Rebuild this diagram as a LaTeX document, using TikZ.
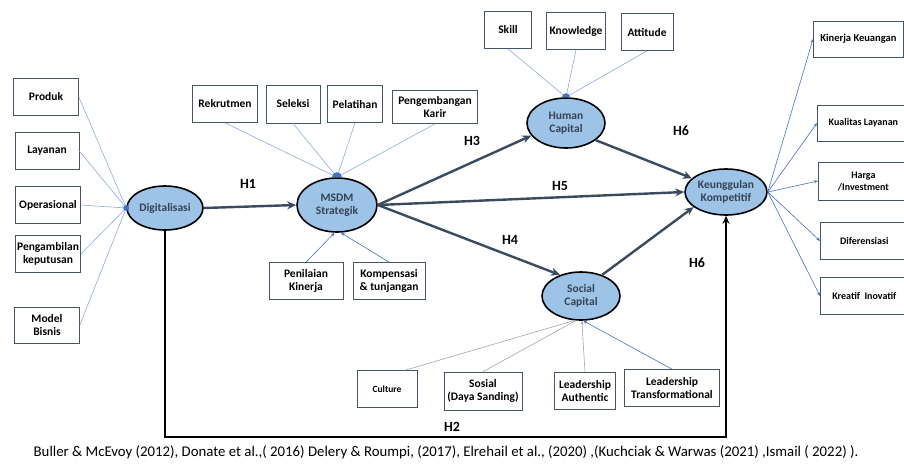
\documentclass[tikz,border=0pt]{standalone}
\usepackage{fontspec}
\setmainfont{Carlito}
\usetikzlibrary{arrows.meta,shapes.geometric}

\definecolor{latent}{HTML}{9DC3E6}
\definecolor{indik}{HTML}{8FAADC}
\definecolor{dotblu}{HTML}{4472C4}
\definecolor{path}{HTML}{3B4A5E}
\definecolor{boxline}{HTML}{44546A}

\tikzset{
  var/.style={ellipse, draw=black, line width=1.6pt, fill=latent, inner sep=-2pt,
    font=\fontsize{11.5}{13}\selectfont\bfseries, text=path!90!black, align=center},
  ind/.style={draw=boxline, line width=0.7pt, fill=white, align=center,
    font=\fontsize{11.5}{13}\selectfont\bfseries, inner sep=0pt},
  small/.style={font=\fontsize{10}{12}\selectfont\bfseries},
  load/.style={indik, line width=0.6pt},
  loadarr/.style={load, -{Stealth[length=4pt,width=3pt]}, dotblu},
  rel/.style={path, line width=2.4pt, -{Stealth[length=9pt,width=8pt]}},
  hyp/.style={font=\fontsize{14}{16}\selectfont\bfseries}
}

\begin{document}
\begin{tikzpicture}[x=1pt,y=-1pt]
\useasboundingbox (0,0) rectangle (904,464);

% konstruk
\node[var, minimum width=76pt, minimum height=44pt] (dig) at (165,208) {Digitalisasi};
\node[var, minimum width=80pt, minimum height=54pt] (msdm) at (337,205) {MSDM\\Strategik};
\node[var, minimum width=78pt, minimum height=50pt] (hc) at (566,123) {Human\\Capital};
\node[var, minimum width=78pt, minimum height=48pt] (sc) at (581,296) {Social\\Capital};
\node[var, minimum width=82pt, minimum height=46pt] (kk) at (726,192) {Keunggulan\\Kompetitif};

% indikator Digitalisasi
\node[ind, minimum width=65pt, minimum height=37pt] (produk) at (46,97) {Produk};
\node[ind, minimum width=64pt, minimum height=37pt] (layanan) at (47,151) {Layanan};
\node[ind, minimum width=65pt, minimum height=37pt] (operasional) at (48,205) {Operasional};
\node[ind, minimum width=65pt, minimum height=37pt] (pengambilan) at (48,254) {Pengambilan\\keputusan};
\node[ind, minimum width=65pt, minimum height=36pt] (model) at (47,325) {Model\\Bisnis};

\coordinate (digdot) at (dig.west);
\foreach \b in {produk,layanan,operasional,pengambilan,model}
  \draw[load] (\b.east) -- (digdot);
\fill[dotblu] (digdot) circle (3pt);

% indikator MSDM
\node[ind, minimum width=65pt, minimum height=37pt] (rekrutmen) at (225,104) {Rekrutmen};
\node[ind, minimum width=54pt, minimum height=38pt] (seleksi) at (293,104) {Seleksi};
\node[ind, minimum width=55pt, minimum height=37pt] (pelatihan) at (355,104) {Pelatihan};
\node[ind, minimum width=85pt, minimum height=33pt] (karir) at (435,107) {Pengembangan\\Karir};
\node[ind, minimum width=74pt, minimum height=37pt] (penilaian) at (306,281) {Penilaian\\Kinerja};
\node[ind, minimum width=72pt, minimum height=37pt] (kompensasi) at (389,281) {Kompensasi\\\& tunjangan};

\coordinate (msdmdot) at (msdm.north);
\foreach \b in {rekrutmen,seleksi,pelatihan,karir}
  \draw[load] (\b.south) -- (msdmdot);
\fill[dotblu] (msdmdot) ++(-5pt,0) arc[start angle=180, end angle=0, radius=5pt] -- cycle;
\draw[loadarr] (penilaian.north) -- (msdm.265);
\draw[loadarr] (kompensasi.north) -- (msdm.278);

% indikator Human Capital
\node[ind, minimum width=47pt, minimum height=37pt] (skill) at (508,30) {Skill};
\node[ind, minimum width=59pt, minimum height=37pt] (knowledge) at (576,31) {Knowledge};
\node[ind, minimum width=52pt, minimum height=37pt] (attitude) at (647,32) {Attitude};

\coordinate (hcdot) at (hc.north);
\foreach \b in {skill,knowledge,attitude}
  \draw[load] (\b.south) -- (hcdot);
\fill[dotblu] (hcdot) ++(-4pt,0) arc[start angle=180, end angle=0, radius=4pt] -- cycle;

% indikator Social Capital
\node[ind, font=\fontsize{9.5}{11}\selectfont\bfseries, minimum width=60pt, minimum height=37pt] (culture) at (387,389) {Culture};
\node[ind, minimum width=78pt, minimum height=38pt] (sosial) at (483,391) {Sosial\\(Daya Sanding)};
\node[ind, minimum width=61pt, minimum height=37pt] (authentic) at (585,391) {Leadership\\Authentic};
\node[ind, minimum width=95pt, minimum height=37pt] (transformational) at (672,388) {Leadership\\Transformational};

\draw[gray!70, line width=0.6pt] (culture.north east) ++(-12pt,0) coordinate (cul) (cul) -- (sc.255);
\draw[gray!70, line width=0.6pt] (sosial.north) -- (sc.258);
\draw[gray!70, line width=0.6pt, -{Stealth[length=4pt,width=3pt]}] (authentic.north) -- (sc.272);
\draw[loadarr] (transformational.north) -- (sc.275);

% indikator Keunggulan Kompetitif
\node[ind, font=\fontsize{10.5}{12}\selectfont\bfseries, minimum width=90pt, minimum height=36pt, anchor=west] (keuangan) at (813,39) {Kinerja Keuangan};
\node[ind, small, minimum width=92pt, minimum height=36pt, anchor=west] (kualitas) at (817,123) {Kualitas Layanan};
\node[ind, small, minimum width=90pt, minimum height=38pt, anchor=west] (harga) at (818,181) {Harga\\/Investment};
\node[ind, small, minimum width=88pt, minimum height=37pt, anchor=west] (diferensiasi) at (820,241) {Diferensiasi};
\node[ind, small, minimum width=88pt, minimum height=37pt, anchor=west] (kreatif) at (820,296) {Kreatif~ Inovatif};

\foreach \b in {keuangan,kualitas,harga,diferensiasi,kreatif}
  \draw[loadarr] (kk.east) -- (\b.west);

% hipotesis
\draw[rel] (dig.east) -- (msdm.west);
\draw[rel] (msdm.east) -- (hc.200);
\draw[rel] (msdm.east) -- (kk.west);
\draw[rel] (msdm.east) -- (sc.135);
\draw[rel] (hc.330) -- (kk.158);
\draw[rel] (sc.45) -- (kk.205);

\coordinate (h2) at (452,437);
\draw[black, line width=2.4pt, -{Stealth[length=8pt,width=7pt]}] (dig.south) |- (h2) -| (kk.south);

\node[hyp] (lh1) at (248,184) {H1};
\node[hyp] (lh3) at (472,141) {H3};
\node[hyp] (lh5) at (560,186) {H5};
\node[hyp] (lh4) at (510,240) {H4};
\node[hyp] (lh6a) at (681,131) {H6};
\node[hyp] (lh6b) at (697,263) {H6};
\node[hyp] (lh2) at (452,427) {H2};

% sumber
\node[font=\fontsize{14.8}{16}\selectfont] (sumber) at (446,452)
  {Buller \& McEvoy (2012), Donate et al.,( 2016) Delery \& Roumpi, (2017), Elrehail et al., (2020) ,(Kuchciak \& Warwas (2021) ,Ismail ( 2022) ).};

\end{tikzpicture}
\end{document}
